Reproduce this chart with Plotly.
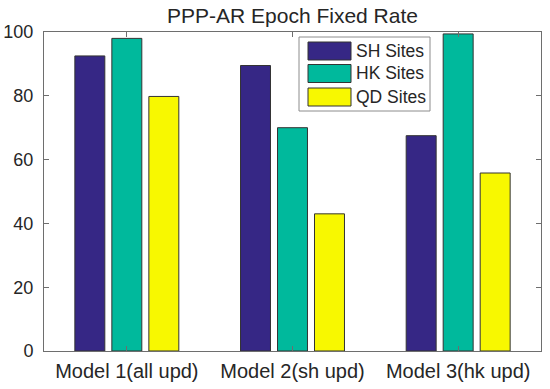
import plotly.graph_objects as go

categories = ["Model 1(all upd)", "Model 2(sh upd)", "Model 3(hk upd)"]
series_names = ["SH Sites", "HK Sites", "QD Sites"]
sh_values = [92.5, 89.5, 67.5]
hk_values = [98.0, 70.0, 99.4]
qd_values = [79.8, 43.0, 55.8]
colors = ["#362785", "#00b99c", "#f8f800"]
y_ticks = [0, 20, 40, 60, 80, 100]

W, H = 550, 389
# plot area in window pixels: x 44..541, y 32..351
L, R, T, B = 44, 550 - 541, 32, 389 - 351
pw, ph = W - L - R, H - T - B

def px(x):  # window x -> paper
    return (x - L) / pw

def py(y):  # window y -> paper
    return (H - B - y) / ph

fig = go.Figure()
for name, vals, col in zip(series_names, [sh_values, hk_values, qd_values], colors):
    fig.add_trace(go.Bar(
        x=categories, y=vals, name=name,
        marker=dict(color=col, line=dict(color="#333333", width=1)),
        showlegend=False, hoverinfo="skip",
    ))

font_family = "Liberation Sans, Arial, sans-serif"
text_col = "#262626"
axis_col = "#6e6e6e"

# MATLAB-style legend box
shapes = [dict(type="rect", xref="paper", yref="paper",
               x0=px(299), x1=px(430), y0=py(111), y1=py(37),
               line=dict(color="#8c8c8c", width=1), fillcolor="white", layer="above")]
annotations = []
row_centers = [51, 73.5, 97]
for name, col, yc in zip(series_names, colors, row_centers):
    shapes.append(dict(type="rect", xref="paper", yref="paper",
                       x0=px(308), x1=px(351), y0=py(yc + 9), y1=py(yc - 9),
                       line=dict(color="#333333", width=1), fillcolor=col, layer="above"))
    annotations.append(dict(xref="paper", yref="paper", x=px(354), y=py(yc),
                            text=name, showarrow=False, xanchor="left", yanchor="middle",
                            font=dict(family=font_family, size=17.5, color=text_col)))

fig.update_layout(
    width=W, height=H,
    margin=dict(l=L, r=R, t=T, b=B, autoexpand=False),
    paper_bgcolor="white", plot_bgcolor="white",
    barmode="group", bargap=0.33, bargroupgap=0.19,
    font=dict(family=font_family, size=18, color=text_col),
    title=dict(text="PPP-AR Epoch Fixed Rate", x=0.5, xref="paper", xanchor="center",
               y=1 - 16 / H, yanchor="middle", yref="container",
               font=dict(family=font_family, size=21, color=text_col)),
    xaxis=dict(type="category", range=[-0.5, 2.5], showline=True, linecolor=axis_col,
               linewidth=1, mirror="ticks", ticks="inside", ticklen=5, tickcolor=axis_col,
               showgrid=False, zeroline=False, ticklabelstandoff=2, automargin=False,
               tickfont=dict(size=20, color=text_col)),
    yaxis=dict(range=[0, 100], tickvals=y_ticks, showline=True, linecolor=axis_col,
               linewidth=1, mirror="ticks", ticks="inside", ticklen=5, tickcolor=axis_col,
               showgrid=False, zeroline=False, ticklabelstandoff=6, automargin=False,
               tickfont=dict(size=18, color=text_col)),
    shapes=shapes, annotations=annotations,
)

# remove the browser's default 8px body margin so the figure fills the window
fig.write_html("out.html", config={"displayModeBar": False},
               post_script="document.body.style.margin='0';")
